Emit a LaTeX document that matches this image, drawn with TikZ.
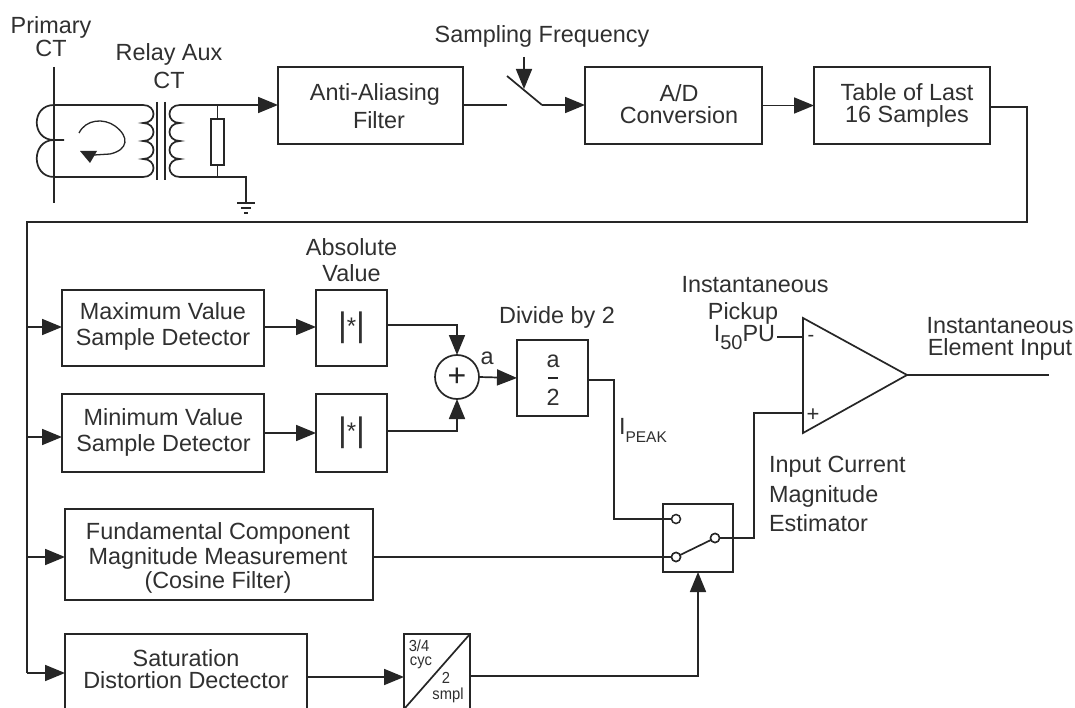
\documentclass[tikz,border=0pt]{standalone}
\usepackage{fontspec}
\setmainfont{Liberation Sans}
\newfontfamily\condfont[FakeStretch=0.92]{Liberation Sans}
\usetikzlibrary{arrows.meta}
\definecolor{ink}{HTML}{262626}
\definecolor{txt}{HTML}{303030}
\newcommand{\barsym}{{\fontsize{34}{34}\selectfont\raisebox{-2pt}{|}}{\fontsize{24}{24}\selectfont *}{\fontsize{34}{34}\selectfont\raisebox{-2pt}{|}}}
\tikzset{
  x=1pt,y=-1pt,
  lbl/.style={inner sep=0pt,outer sep=0pt,text=txt,align=center,font=\fontsize{23.4}{#1}\selectfont},
  lbl/.default=24.5,
  box/.style={draw=ink,line width=1.7pt,inner sep=0pt,outer sep=0pt,align=center,text=txt,minimum width=#1},
  arr/.style={-{Triangle[length=20pt,width=16pt]}},
  term/.style={circle,draw=ink,line width=1.5pt,fill=white,minimum size=9pt,inner sep=0pt,outer sep=0pt},
  tiny/.style={inner sep=0pt,outer sep=0pt,text=txt,align=center,font=\condfont\fontsize{16}{16}\selectfont},
}
\begin{document}
\begin{tikzpicture}[line width=1.7pt,color=ink]
\useasboundingbox (0,0) rectangle (1075,708);
\clip (0,0) rectangle (1075,708);
\fill[white] (0,0) rectangle (1075,708);

% boxes
\node[box=185pt,minimum height=77pt] (aaf) at (370.5,105.5) {};
\node[box=177pt,minimum height=77pt] (adc) at (673.5,105.5) {};
\node[box=176pt,minimum height=77pt] (tbl) at (902,105.5) {};
\node[box=202pt,minimum height=76pt] (maxd) at (163,328) {};
\node[box=202pt,minimum height=78pt] (mind) at (163,433) {};
\node[box=308pt,minimum height=91pt] (fund) at (219,554.5) {};
\node[box=242pt,minimum height=84pt] (sat) at (186,676) {};
\node[box=71pt,minimum height=76pt,font=\fontsize{28}{28}\selectfont] (absa) at (351.5,328) {\barsym};
\node[box=71pt,minimum height=78pt,font=\fontsize{28}{28}\selectfont] (absb) at (351.5,433) {\barsym};
\node[circle,draw=ink,line width=1.7pt,minimum size=44pt,inner sep=0pt,outer sep=0pt,font=\fontsize{32}{32}\selectfont,text=ink] (sum) at (457,377) {+};
\node[box=71pt,minimum height=76pt] (halfb) at (552.5,378) {};
\node[box=70pt,minimum height=68pt] (swb) at (698,538) {};
\node[box=66pt,minimum height=84pt] (timer) at (437,676) {};

% labels
\node[lbl=23] (lprimary) at (51,37) {Primary\\CT};
\node[lbl=28] (lrelay) at (169,66) {Relay Aux\\CT};
\node[lbl] (lsampling) at (542,36) {Sampling Frequency};
\node[lbl=26] (labs) at (351.5,260) {Absolute\\Value};
\node[lbl] (ldiv) at (557,317) {Divide by 2};
\node[lbl] (la) at (487,358) {a};
\node[lbl,anchor=west] (lpeak) at (619,430) {I\raisebox{-8pt}{\fontsize{15.5}{15.5}\selectfont PEAK}};
\node[lbl=27] (lpick) at (755,300) {Instantaneous\\\hspace*{-24pt}Pickup};
\node[lbl,anchor=east] (lipu) at (775,338) {I\raisebox{-8pt}{\fontsize{20}{20}\selectfont 50}PU};
\node[lbl=21.5] (lelem) at (1000,339) {Instantaneous\\Element Input};
\node[lbl=29.5,align=left,anchor=west] (lest) at (769,494) {Input Current\\Magnitude\\Estimator};
\node[lbl=28] (taaf) at (377,106) {\hspace*{-4pt}Anti-Aliasing\\\hspace*{4pt}Filter};
\node[lbl=22] (tadc) at (679,104) {A/D\\Conversion};
\node[lbl=22] (ttbl) at (907,105.5) {Table of Last\\16 Samples};
\node[lbl=26] (tmax) at (163,326) {Maximum Value\\Sample Detector};
\node[lbl=26] (tmin) at (163.5,432) {Minimum Value\\Sample Detector};
\node[lbl] (tfund) at (218,558) {Fundamental Component\\Magnitude Measurement\\(Cosine Filter)};
\node[lbl=21.5] (tsat) at (186,669) {Saturation\\Distortion Dectector};
\node[lbl] (halfa) at (553,361) {a};
\node[lbl] (halftwo) at (553,397) {2};
\draw (548,378) -- (558,378);
\draw (timer.north east) -- (405,708);
\node[tiny] (t34) at (419,646) {3/4};
\node[tiny] (tcyc) at (421,663) {cyc};
\node[tiny] (t2) at (446,678) {2};
\node[tiny] (tsmpl) at (448,695) {smpl};

% primary CT
\coordinate (cttop) at (54,67);
\coordinate (ctbot) at (54,203);
\draw (cttop) -- (ctbot);
\draw (54,105) .. controls (31,105) and (31,140) .. (54,140) -- (64,140);
\draw (54,140) .. controls (31,140) and (31,177) .. (54,177);
\draw (54,105) -- (143,105);
\draw (54,177) -- (143,177);
\draw (143,105) .. controls (157,105) and (157,123) .. (143,123)
   .. controls (157,123) and (157,141) .. (143,141)
   .. controls (157,141) and (157,159) .. (143,159)
   .. controls (157,159) and (157,177) .. (143,177);
\draw (157,102) -- (157,180);
\draw (165,102) -- (165,180);
\draw (180,105) .. controls (166,105) and (166,123) .. (180,123)
   .. controls (166,123) and (166,141) .. (180,141)
   .. controls (166,141) and (166,159) .. (180,159)
   .. controls (166,159) and (166,177) .. (180,177);
\draw[line width=1.3pt] (79,133) .. controls (86,119) and (104,118) .. (115,126)
   .. controls (130,137) and (128,150) .. (110,154) -- (94,155);
\fill[ink] (80,151) -- (97,151) -- (90,163) -- cycle;
% burden and ground
\node[box=13pt,minimum height=46pt] (burden) at (217.5,142) {};
\coordinate (bt) at (217.5,105);
\coordinate (bb) at (217.5,177);
\draw (bt) -- (burden.north);
\draw (burden.south) -- (bb);
\coordinate (gnd) at (246,203);
\draw (180,177) -- (246,177) -- (gnd);
\draw (237,203) -- (255,203);
\draw (241,208) -- (251,208);
\draw (244,213) -- (248,213);
\draw[arr] (180,105) -- (aaf.west |- 0,105);

% sampling switch
\coordinate (swl) at (507,105);
\coordinate (swa) at (507,76);
\coordinate (swb2) at (542,105);
\coordinate (swarr) at (524,89);
\draw (aaf.east |- swl) -- (swl);
\draw (swa) -- (swb2);
\draw[arr] (swb2) -- (adc.west |- swb2);
\draw[arr] (524,57) -- (swarr);
\draw[arr] (adc.east) -- (tbl.west);

% bus
\coordinate (bus1) at (1027,107);
\coordinate (bus2) at (1027,222);
\coordinate (bus3) at (27,222);
\coordinate (bus4) at (27,673);
\draw (tbl.east |- bus1) -- (bus1) -- (bus2) -- (bus3) -- (bus4);
\draw[arr] (27,327) -- (maxd.west |- 0,327);
\draw[arr] (27,437) -- (mind.west |- 0,437);
\draw[arr] (27,557) -- (fund.west |- 0,557);
\draw[arr] (bus4) -- (sat.west |- bus4);

\draw[arr] (maxd.east |- 0,327) -- (absa.west |- 0,327);
\draw[arr] (mind.east) -- (absb.west);
\draw[arr] (absa.east |- 0,325) -| (sum.north);
\draw[arr] (absb.east |- 0,431) -| (sum.south);
\draw[arr] (sum.east) -- (halfb.west);
\draw[arr] (sat.east |- 0,677) -- (timer.west |- 0,677);

% selector switch
\node[term] (ta) at (676,519) {};
\node[term] (tb) at (676,557) {};
\node[term] (tc) at (715,538) {};
\draw (halfb.east |- 0,380) -- (614,380) -- (614,519) -- (ta.west);
\draw (fund.east |- tb) -- (tb.west);
\draw (tb) -- (tc);
\node[term] at (676,557) {};
\node[term] at (715,538) {};
\draw[arr] (timer.east) -- (698,676) -- (swb.south);

% comparator
\coordinate (opa) at (803,318);
\coordinate (opb) at (803,433);
\coordinate (opc) at (907,375);
\draw[line join=miter] (opa) -- (opc) -- (opb) -- cycle;
\coordinate (opp) at (803,413);
\coordinate (opm) at (803,337);
\coordinate (optout) at (1049,375);
\draw (tc.east) -- (754,538) -- (754,413) -- (opp);
\draw (777,337) -- (opm);
\draw (opc) -- (optout);
\node[lbl,font=\fontsize{20}{20}\selectfont] (minus) at (811,338) {-};
\node[lbl,font=\fontsize{22}{22}\selectfont] (plus) at (813,415) {+};
\end{tikzpicture}
\end{document}
